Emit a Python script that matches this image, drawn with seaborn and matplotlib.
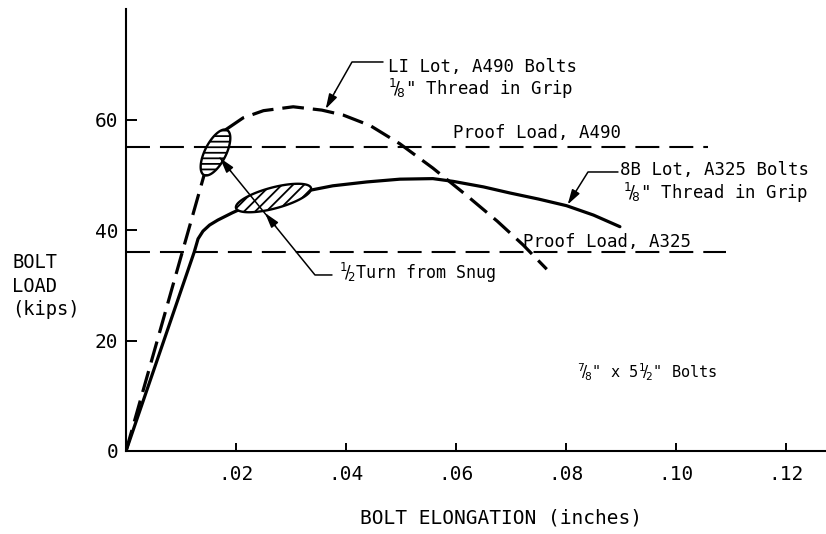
import matplotlib
matplotlib.use("Agg")
import numpy as np
import pandas as pd
import seaborn as sns
import matplotlib.pyplot as plt

# Load-elongation data read for 7/8" x 5-1/2" bolts
elong_a490 = [0, 0.0143, 0.0162, 0.0182, 0.0213, 0.0250, 0.0304,
              0.0356, 0.0395, 0.0444, 0.0498, 0.0558, 0.0620, 0.0675, 0.0722, 0.0765]
load_a490 = [0, 50.3, 54.0, 58.2, 60.3, 61.6, 62.3,
             61.7, 60.8, 58.9, 55.6, 51.2, 46.2, 41.6, 37.3, 32.9]

elong_a325 = [0, 0.0124, 0.0131, 0.0140, 0.0152, 0.0167, 0.0193, 0.0204, 0.0270,
              0.0335, 0.0376, 0.0438, 0.0498, 0.0558, 0.0595, 0.0650, 0.0698,
              0.0750, 0.0801, 0.0850, 0.0898]
load_a325 = [0, 36.0, 38.4, 39.8, 40.9, 41.8, 43.1, 43.6, 45.6,
             47.2, 48.0, 48.7, 49.2, 49.3, 48.8, 47.8, 46.7,
             45.6, 44.4, 42.7, 40.6]

# Proof loads (kips) and the extent of their reference lines (in.)
proof_labels = ["Proof Load, A490", "Proof Load, A325"]
proof_loads = [55, 36]
proof_line_end = [0.1058, 0.1090]

# "1/2 turn from snug" regions: centre (in., kips), long and short semi-axes
turn_centres = [(0.01627, 54.03), (0.02682, 45.79)]
turn_long_axes = [(0.00209, 4.07), (0.00682, 1.81)]
turn_short_axes = [(0.00170, -0.865), (0.000493, -1.835)]
turn_hatches = ["---", "///"]

x_ticks = [0.02, 0.04, 0.06, 0.08, 0.10, 0.12]
x_tick_labels = [".02", ".04", ".06", ".08", ".10", ".12"]
y_ticks = [0, 20, 40, 60]
y_tick_labels = ["0", "20", "40", "60"]

sns.set_theme(style="ticks")
plt.rcParams["font.family"] = ["DejaVu Sans Mono", "DejaVu Sans"]
plt.rcParams["mathtext.fontset"] = "dejavusans"
plt.rcParams["text.color"] = "black"
plt.rcParams["hatch.linewidth"] = 1.3

fig = plt.figure(figsize=(8.26, 5.34), dpi=100)
ax = fig.add_axes([126 / 826, 1 - 451 / 534, 700 / 826, 442 / 534])

df490 = pd.DataFrame({"elong": elong_a490, "load": load_a490})
df325 = pd.DataFrame({"elong": elong_a325, "load": load_a325})

sns.lineplot(data=df490, x="elong", y="load", ax=ax, sort=False, estimator=None,
             color="black", linewidth=2.3, zorder=3)
ax.lines[-1].set_dashes((6.8, 2.8))
ax.lines[-1].set_dash_capstyle("butt")
sns.lineplot(data=df325, x="elong", y="load", ax=ax, sort=False, estimator=None,
             color="black", linewidth=2.3, zorder=3)

# proof load lines
for load, end in zip(proof_loads, proof_line_end):
    ax.plot([0, end], [load, load], color="black", linewidth=1.5,
            dashes=(11.5, 4.8), zorder=2)

# hatched regions
t = np.linspace(0, 2 * np.pi, 200)
for (cx, cy), (ux, uy), (vx, vy), h in zip(turn_centres, turn_long_axes,
                                           turn_short_axes, turn_hatches):
    ex = cx + ux * np.cos(t) + vx * np.sin(t)
    ey = cy + uy * np.cos(t) + vy * np.sin(t)
    ax.fill(ex, ey, facecolor="white", edgecolor="black", linewidth=1.7,
            hatch=h, zorder=4)

ax.set_xlim(0, 700 / 5500)
ax.set_ylim(0, 80)
ax.set_xticks(x_ticks)
ax.set_xticklabels(x_tick_labels)
ax.set_yticks(y_ticks)
ax.set_yticklabels(y_tick_labels)
ax.set_xlabel("")
ax.set_ylabel("")
ax.tick_params(axis="y", direction="in", length=8, width=1.4, pad=5.5,
               labelsize=14, colors="black")
ax.tick_params(axis="x", direction="in", length=6, width=1.4, pad=10,
               labelsize=14, colors="black")
for side in ("left", "bottom"):
    ax.spines[side].set_linewidth(1.5)
    ax.spines[side].set_color("black")
sns.despine(ax=ax)

arrow_kw = dict(arrowstyle="-|>,head_length=0.75,head_width=0.22",
                color="black", lw=1.1, mutation_scale=12,
                shrinkA=0, shrinkB=0)
note_size = 12.5
eighth = r'$^{1}\!/\!_{8}$"'

# leader for the A490 curve
ax.plot([0.04673, 0.04109, 0.0380], [70.41, 70.41, 65.0], color="black",
        linewidth=1.1, zorder=5)
ax.annotate("", xy=(0.0363, 61.9), xytext=(0.0380, 65.0), arrowprops=arrow_kw,
            zorder=5)
ax.text(0.04764, 69.5, "LI Lot, A490 Bolts", fontsize=note_size, ha="left", va="center")
ax.text(0.08127, 65.5, eighth + " Thread in Grip", fontsize=note_size,
        ha="right", va="center")

# leader for the A325 curve
ax.plot([0.08945, 0.0840, 0.0818], [50.5, 50.5, 47.0], color="black",
        linewidth=1.1, zorder=5)
ax.annotate("", xy=(0.0803, 44.6), xytext=(0.0818, 47.0), arrowprops=arrow_kw,
            zorder=5)
ax.text(0.08982, 50.86, "8B Lot, A325 Bolts", fontsize=note_size, ha="left", va="center")
ax.text(0.1240, 46.7, eighth + " Thread in Grip", fontsize=note_size,
        ha="right", va="center")

# proof load labels
ax.text(0.05945, 56.6, proof_labels[0], fontsize=note_size, ha="left", va="baseline")
ax.text(0.07218, 36.9, proof_labels[1], fontsize=note_size, ha="left", va="baseline")

# half-turn leader with two arrowheads
ax.plot([0.03745, 0.03436, 0.01709], [31.86, 31.86, 53.03], color="black",
        linewidth=1.1, zorder=5)
ax.annotate("", xy=(0.01709, 53.03), xytext=(0.0190, 50.7), arrowprops=arrow_kw,
            zorder=6)
ax.annotate("", xy=(0.02527, 43.08), xytext=(0.0272, 40.7), arrowprops=arrow_kw,
            zorder=6)
ax.text(0.03873, 32.2, r"$^{1}\!/\!_{2}$Turn from Snug", fontsize=12,
        ha="left", va="center")

ax.text(0.0820, 14.3, r'$^{7}\!/\!_{8}$" x 5$^{1}\!/\!_{2}$" Bolts',
        fontsize=11, ha="left", va="center")

fig.text(12 / 826, 1 - 286 / 534, "BOLT\nLOAD\n(kips)", fontsize=13.5,
         ha="left", va="center", linespacing=1.3)
fig.text(501 / 826, 1 - 518 / 534, "BOLT ELONGATION (inches)", fontsize=14,
         ha="center", va="center")

fig.savefig("out.png", dpi=100, facecolor="white")
